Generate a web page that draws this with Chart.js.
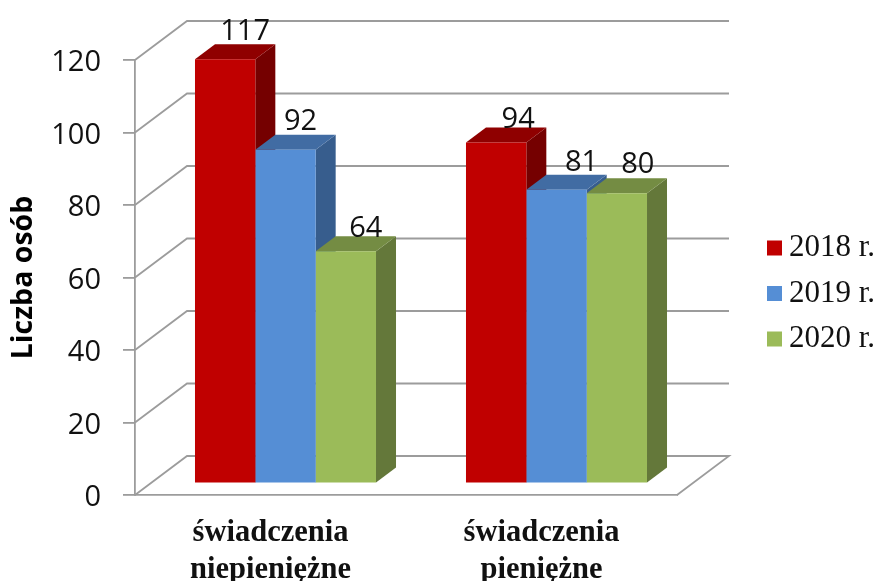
<!DOCTYPE html>
<html>
<head>
<meta charset="utf-8">
<style>
  html, body { margin: 0; padding: 0; background: #fff; }
  canvas { display: block; }
</style>
<script src="https://cdn.jsdelivr.net/npm/chart.js@4"></script>
</head>
<body>
<canvas id="myChart" width="876" height="581"></canvas>
<script>
const categories = [['świadczenia', 'niepieniężne'], ['świadczenia', 'pieniężne']];
const years = ['2018 r.', '2019 r.', '2020 r.'];
const values2018 = [117, 94];
const values2019 = [92, 81];
const values2020 = [64, 80];

const frontColors = ['#C00000', '#558ED5', '#9BBB59'];
const topColors = ['#8F0000', '#416CA3', '#748C43'];
const sideColors = ['#750000', '#375D8D', '#64783A'];

const gridColor = '#9C9C9C';
// depth of the back wall and of the bars
const wallX = 52, wallY = 39;
const barX = 20, barY = 15;
// bars stand a bit inside the floor
const shiftX = 15, shiftY = -11.7;
// small corrections of the value labels, per series and category
const nudgeX = [[0, 2], [-5, 5], [0, 1]];
const nudgeY = [[1, 5], [0, 1], [6, 0]];

function poly(ctx, color, pts) {
    ctx.fillStyle = color;
    ctx.beginPath();
    ctx.moveTo(pts[0][0], pts[0][1]);
    for (let i = 1; i < pts.length; i++) ctx.lineTo(pts[i][0], pts[i][1]);
    ctx.closePath();
    ctx.fill();
}

const threeD = {
    id: 'threeD',
    afterLayout(chart) {
        // legend sits in the free space on the right
        const legend = chart.legend;
        legend.left = 752.5;
        legend.right = 875;
        legend.top = 218;
        legend.bottom = 377;
    },
    beforeDatasetsDraw(chart) {
        const ctx = chart.ctx;
        const area = chart.chartArea;
        const y = chart.scales.y;

        // walls and floor
        ctx.save();
        ctx.strokeStyle = gridColor;
        ctx.lineWidth = 1.8;
        for (const tick of y.ticks) {
            const py = y.getPixelForValue(tick.value);
            ctx.beginPath();
            ctx.moveTo(area.left, py);
            ctx.lineTo(area.left + wallX, py - wallY);
            ctx.lineTo(area.right + wallX, py - wallY);
            if (tick.value === 0) ctx.lineTo(area.right, py);
            ctx.stroke();
        }
        ctx.restore();

        // tops and sides go under the fronts
        ctx.save();
        ctx.translate(shiftX, shiftY);
        chart.getSortedVisibleDatasetMetas().forEach((meta) => {
            meta.data.forEach((bar) => {
                const left = bar.x - bar.width / 2, right = bar.x + bar.width / 2;
                poly(ctx, sideColors[meta.index], [[right, bar.y], [right + barX, bar.y - barY], [right + barX, bar.base - barY], [right, bar.base]]);
                poly(ctx, topColors[meta.index], [[left, bar.y], [left + barX, bar.y - barY], [right + barX, bar.y - barY], [right, bar.y]]);
            });
        });
        ctx.restore();

        ctx.save();
        ctx.translate(shiftX, shiftY);
    },
    afterDatasetsDraw(chart) {
        const ctx = chart.ctx;
        ctx.restore();

        // value labels
        ctx.save();
        ctx.font = '29px "Open Sans"';
        ctx.fillStyle = '#111';
        ctx.textAlign = 'center';
        ctx.textBaseline = 'alphabetic';
        chart.getSortedVisibleDatasetMetas().forEach((meta) => {
            meta.data.forEach((bar, i) => {
                const value = chart.data.datasets[meta.index].data[i];
                ctx.fillText(value, bar.x + shiftX + barX + nudgeX[meta.index][i], bar.y + shiftY - barY - 5 + nudgeY[meta.index][i]);
            });
        });
        ctx.restore();
    }
};

const ctx = document.getElementById('myChart').getContext('2d');
const myChart = new Chart(ctx, {
    type: 'bar',
    data: {
        labels: categories,
        datasets: [
            { label: years[0], data: values2018, backgroundColor: frontColors[0] },
            { label: years[1], data: values2019, backgroundColor: frontColors[1] },
            { label: years[2], data: values2020, backgroundColor: frontColors[2] }
        ]
    },
    options: {
        responsive: false,
        animation: false,
        layout: { padding: { top: 60, left: 0, right: 199, bottom: 0 } },
        datasets: { bar: { categoryPercentage: 0.668, barPercentage: 1 } },
        plugins: {
            tooltip: { enabled: false },
            legend: {
                position: 'chartArea',
                align: 'start',
                labels: {
                    boxWidth: 15,
                    boxHeight: 15,
                    padding: 14.5,
                    textAlign: 'right',
                    color: '#111',
                    font: { family: '"Liberation Serif"', size: 31 }
                }
            }
        },
        scales: {
            x: {
                afterFit(scale) { scale.height = 86; },
                grid: { display: false },
                border: { color: gridColor, width: 1.8 },
                ticks: {
                    color: '#111',
                    padding: 12,
                    maxRotation: 0,
                    font: { family: '"Liberation Serif"', size: 30.5, weight: 'bold', lineHeight: 1.2 }
                }
            },
            y: {
                min: 0,
                max: 120,
                afterFit(scale) { scale.width = 135; },
                grid: { drawOnChartArea: false, tickLength: 12, color: gridColor, lineWidth: 1.8 },
                border: { color: gridColor, width: 1.8 },
                ticks: {
                    stepSize: 20,
                    color: '#111',
                    padding: 22,
                    labelOffset: 3,
                    font: { family: '"Open Sans"', size: 29 }
                },
                title: {
                    display: true,
                    text: 'Liczba osób',
                    color: '#000',
                    padding: { top: 7, bottom: 0 },
                    font: { family: '"Open Sans"', size: 28.5, weight: 'bold' }
                }
            }
        }
    },
    plugins: [threeD]
});
</script>
</body>
</html>
